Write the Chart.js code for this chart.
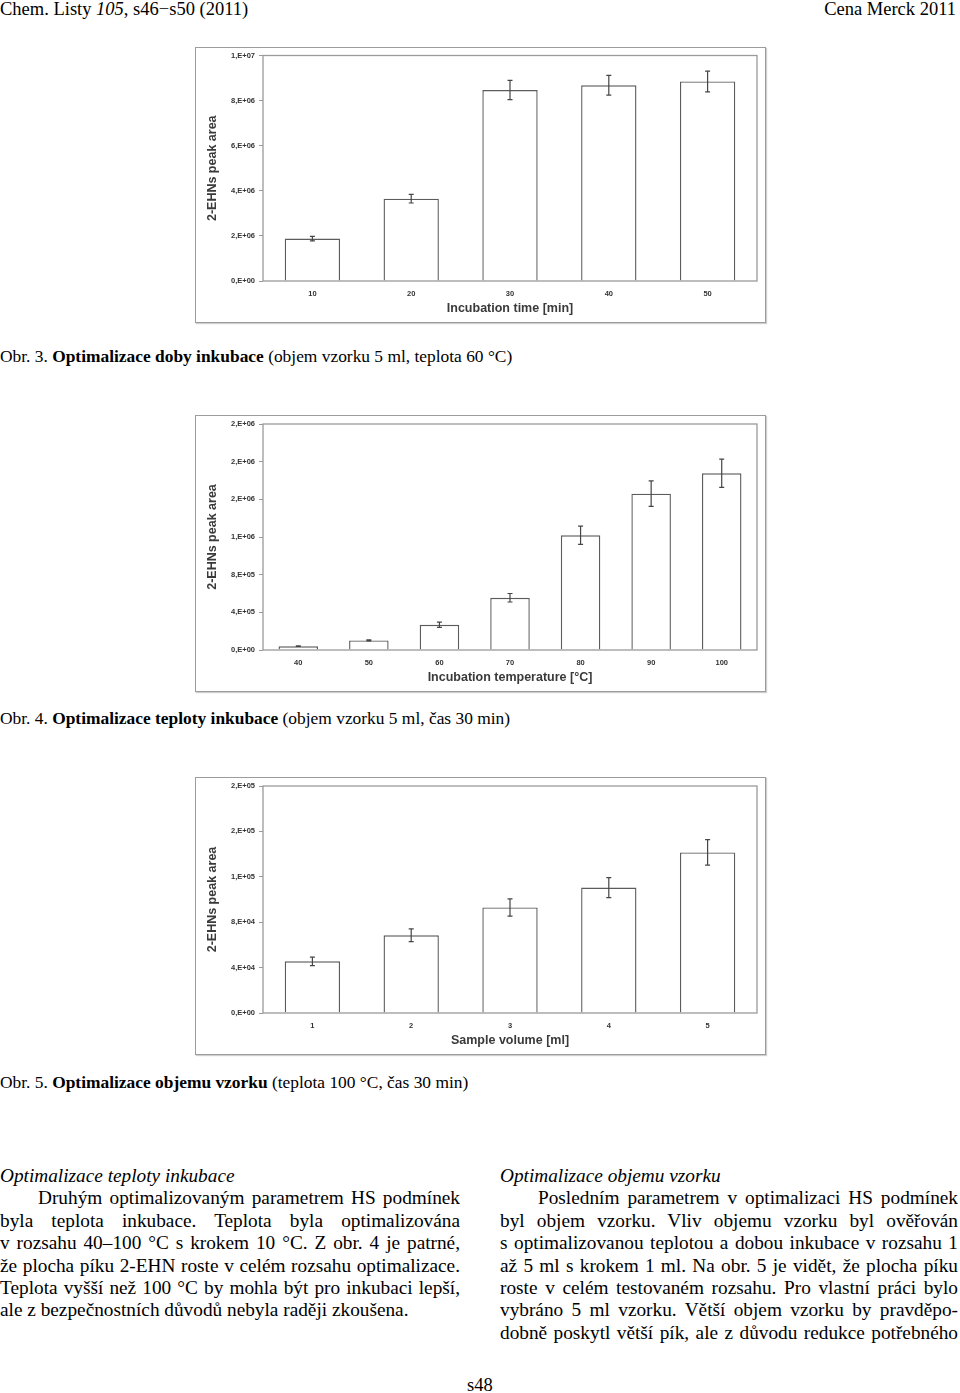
<!DOCTYPE html>
<html>
<head>
<meta charset="utf-8">
<script src="https://cdn.jsdelivr.net/npm/chart.js@4.4.0/dist/chart.umd.min.js"></script>
<style>
body { margin: 0; width: 960px; height: 1393px; background: #fff; position: relative; overflow: hidden;
       font-family: "Liberation Serif", "Times New Roman", serif; color: #000; }
.t { position: absolute; white-space: nowrap; font-size: 18.5px; line-height: 22px; }
.cap { font-size: 17.4px; }
.frame { position: absolute; border: 1px solid #9c9c9c; box-shadow: 1px 1px 1px #cfcfcf; box-sizing: border-box; }
.box { position: absolute; }
.col { position: absolute; width: 460px; font-size: 19.3px; line-height: 22.4px; }
.col div { text-align: justify; text-align-last: justify; height: 22.4px; overflow: hidden; }
.col div.h { font-style: italic; text-align-last: left; }
.col div.in { text-indent: 38px; }
.col div.end { text-align-last: left; }
</style>
</head>
<body>

<div class="t" style="left:0;top:-2px">Chem. Listy <i>105</i>, s46−s50 (2011)</div>
<div class="t" style="right:4px;top:-2px">Cena Merck 2011</div>

<div class="frame" style="left:195px;top:47px;width:571px;height:276px"></div>
<div class="box" style="left:195px;top:47px"><canvas id="chartTime" width="571" height="276"></canvas></div>
<div class="t cap" style="left:0;top:345px">Obr. 3. <b>Optimalizace doby inkubace</b> (objem vzorku 5 ml, teplota 60 °C)</div>

<div class="frame" style="left:195px;top:415px;width:571px;height:277px"></div>
<div class="box" style="left:195px;top:415px"><canvas id="chartTemp" width="571" height="277"></canvas></div>
<div class="t cap" style="left:0;top:707px">Obr. 4. <b>Optimalizace teploty inkubace</b> (objem vzorku 5 ml, čas 30 min)</div>

<div class="frame" style="left:195px;top:777px;width:571px;height:278px"></div>
<div class="box" style="left:195px;top:777px"><canvas id="chartVol" width="571" height="278"></canvas></div>
<div class="t cap" style="left:0;top:1071px">Obr. 5. <b>Optimalizace objemu vzorku</b> (teplota 100 °C, čas 30 min)</div>

<div class="col" style="left:0;top:1165px">
  <div class="h">Optimalizace teploty inkubace</div>
  <div class="in">Druhým optimalizovaným parametrem HS podmínek</div>
  <div>byla teplota inkubace. Teplota byla optimalizována</div>
  <div>v rozsahu 40–100 °C s krokem 10 °C. Z obr. 4 je patrné,</div>
  <div>že plocha píku 2-EHN roste v celém rozsahu optimalizace.</div>
  <div>Teplota vyšší než 100 °C by mohla být pro inkubaci lepší,</div>
  <div class="end">ale z bezpečnostních důvodů nebyla raději zkoušena.</div>
</div>

<div class="col" style="left:500px;top:1165px;width:458px">
  <div class="h">Optimalizace objemu vzorku</div>
  <div class="in">Posledním parametrem v optimalizaci HS podmínek</div>
  <div>byl objem vzorku. Vliv objemu vzorku byl ověřován</div>
  <div>s optimalizovanou teplotou a dobou inkubace v rozsahu 1</div>
  <div>až 5 ml s krokem 1 ml. Na obr. 5 je vidět, že plocha píku</div>
  <div>roste v celém testovaném rozsahu. Pro vlastní práci bylo</div>
  <div>vybráno 5 ml vzorku. Větší objem vzorku by pravděpo-</div>
  <div>dobně poskytl větší pík, ale z důvodu redukce potřebného</div>
</div>

<div class="t" style="left:467px;top:1374px">s48</div>

<script>
// Obr. 3 - incubation time
const timeLabels = ['10', '20', '30', '40', '50'];
const timeArea = [1.88e6, 3.65e6, 8.47e6, 8.68e6, 8.85e6];
const timeErr = [0.10e6, 0.19e6, 0.43e6, 0.44e6, 0.46e6];
const timeTicks = ['0,E+00', '2,E+06', '4,E+06', '6,E+06', '8,E+06', '1,E+07'];

// Obr. 4 - incubation temperature
const tempLabels = ['40', '50', '60', '70', '80', '90', '100'];
const tempArea = [4.0e4, 1.02e5, 2.68e5, 5.55e5, 1.218e6, 1.66e6, 1.877e6];
const tempErr = [3e3, 6e3, 2.7e4, 4.5e4, 9.7e4, 1.35e5, 1.5e5];
const tempTicks = ['0,E+00', '4,E+05', '8,E+05', '1,E+06', '2,E+06', '2,E+06', '2,E+06'];

// Obr. 5 - sample volume
const volLabels = ['1', '2', '3', '4', '5'];
const volArea = [4.55e4, 6.85e4, 9.3e4, 1.105e5, 1.415e5];
const volErr = [3.7e3, 5.7e3, 7.6e3, 8.8e3, 1.13e4];
const volTicks = ['0,E+00', '4,E+04', '8,E+04', '1,E+05', '2,E+05', '2,E+05'];

const tickFont = { family: 'Liberation Sans', size: 7.5, weight: 'bold' };
const titleFont = { family: 'Liberation Sans', size: 12.5, weight: 'bold' };

// grey border round the plot area
const plotBox = {
  id: 'plotBox',
  afterDatasetsDraw(chart) {
    const { ctx, chartArea: a } = chart;
    ctx.save();
    ctx.strokeStyle = '#9a9a9a';
    ctx.lineWidth = 1.3;
    ctx.strokeRect(a.left, a.top, a.right - a.left, a.bottom - a.top);
    ctx.restore();
  }
};

// error bars, +- the value in dataset.errors
const errorBars = {
  id: 'errorBars',
  afterDatasetsDraw(chart) {
    const { ctx } = chart;
    const y = chart.scales.y;
    const ds = chart.data.datasets[0];
    ctx.save();
    ctx.strokeStyle = '#454545';
    ctx.lineWidth = 1.2;
    chart.getDatasetMeta(0).data.forEach((bar, i) => {
      const v = ds.data[i], e = ds.errors[i];
      const top = y.getPixelForValue(v + e);
      const bot = y.getPixelForValue(v - e);
      ctx.beginPath();
      ctx.moveTo(bar.x, top); ctx.lineTo(bar.x, bot);
      ctx.moveTo(bar.x - 2.5, top); ctx.lineTo(bar.x + 2.5, top);
      ctx.moveTo(bar.x - 2.5, bot); ctx.lineTo(bar.x + 2.5, bot);
      ctx.stroke();
    });
    ctx.restore();
  }
};

function makeChart(id, labels, values, errors, ticks, max, step, xTitle, padTop) {
  return new Chart(document.getElementById(id), {
    type: 'bar',
    data: {
      labels: labels,
      datasets: [{
        data: values,
        errors: errors,
        backgroundColor: '#ffffff',
        borderColor: '#5c5c5c',
        borderWidth: 1.4,
        barPercentage: 0.56,
        categoryPercentage: 1
      }]
    },
    options: {
      responsive: false,
      animation: false,
      layout: { padding: { top: padTop, right: 9, left: 0, bottom: 0 } },
      plugins: { legend: { display: false }, tooltip: { enabled: false } },
      scales: {
        x: {
          grid: { display: false, drawTicks: false },
          border: { display: false },
          ticks: { font: tickFont, color: '#333', padding: 8 },
          title: { display: true, text: xTitle, font: titleFont, color: '#3a3a3a', padding: { top: 0, bottom: 7 } },
          afterFit(s) { s.height = 42; }
        },
        y: {
          min: 0,
          max: max,
          ticks: { stepSize: step, font: tickFont, color: '#333', padding: 4,
                   callback: (v, i) => ticks[i] },
          grid: { drawOnChartArea: false, tickLength: 4, color: '#9a9a9a' },
          border: { display: false },
          title: { display: true, text: '2-EHNs peak area', font: titleFont, color: '#3a3a3a', padding: { top: 10, bottom: 0 } },
          afterFit(s) { s.width = 68; }
        }
      }
    },
    plugins: [plotBox, errorBars]
  });
}

makeChart('chartTime', timeLabels, timeArea, timeErr, timeTicks, 1e7, 2e6, 'Incubation time [min]', 8);
makeChart('chartTemp', tempLabels, tempArea, tempErr, tempTicks, 2.4e6, 4e5, 'Incubation temperature [°C]', 9);
makeChart('chartVol', volLabels, volArea, volErr, volTicks, 2e5, 4e4, 'Sample volume [ml]', 9);
</script>
</body>
</html>
